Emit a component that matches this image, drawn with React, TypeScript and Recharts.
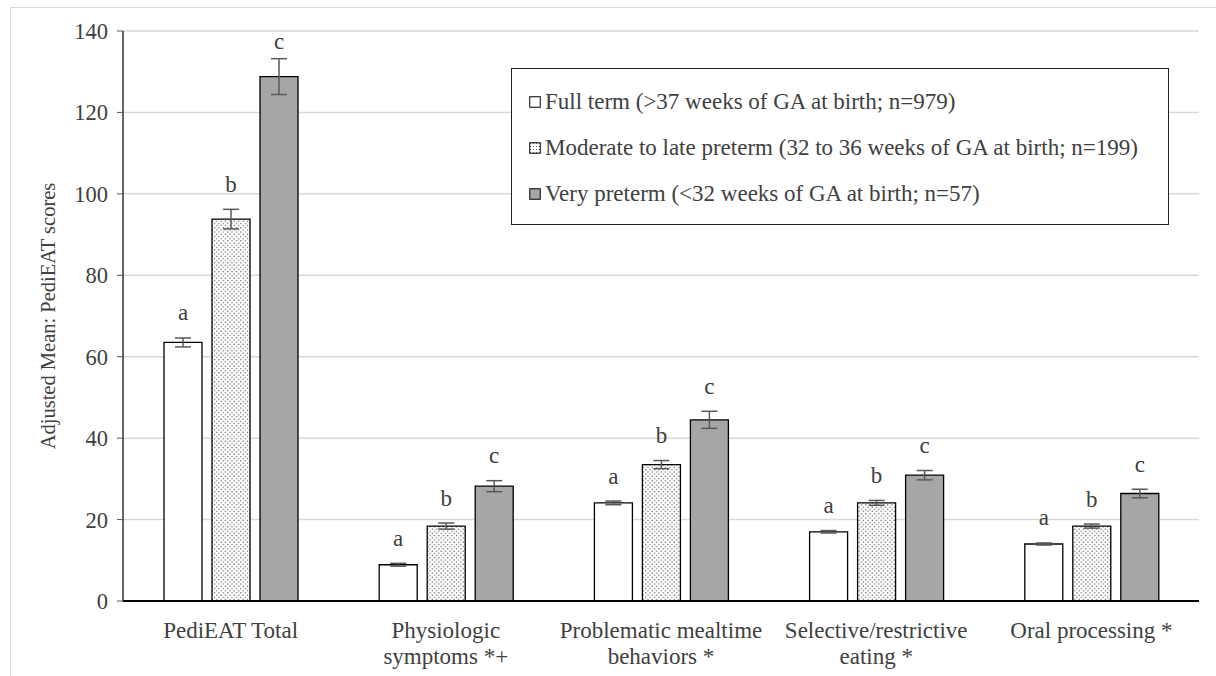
import React from "react";
import {
  BarChart,
  Bar,
  XAxis,
  YAxis,
  CartesianGrid,
  ErrorBar,
  LabelList,
  Label,
} from "recharts";

const categories = [
  "PediEAT Total",
  "Physiologic symptoms *+",
  "Problematic mealtime behaviors *",
  "Selective/restrictive eating *",
  "Oral processing *",
];
const tickLines: string[][] = [
  ["PediEAT Total"],
  ["Physiologic", "symptoms *+"],
  ["Problematic mealtime", "behaviors *"],
  ["Selective/restrictive", "eating *"],
  ["Oral processing *"],
];
const fullTerm = [63.5, 8.9, 24.1, 17.0, 14.0];
const fullTermErr = [1.1, 0.35, 0.45, 0.3, 0.25];
const moderate = [93.8, 18.4, 33.5, 24.1, 18.4];
const moderateErr = [2.4, 0.75, 1.0, 0.6, 0.5];
const veryPre = [128.8, 28.2, 44.5, 30.9, 26.4];
const veryPreErr = [4.4, 1.35, 2.1, 1.15, 1.05];
const yTicks = [0, 20, 40, 60, 80, 100, 120, 140];
const seriesNames = [
  "Full term (>37 weeks of GA at birth; n=979)",
  "Moderate to late preterm (32 to 36 weeks of GA at birth; n=199)",
  "Very preterm (<32 weeks of GA at birth; n=57)",
];
const seriesLetters = ["a", "b", "c"];

const data = categories.map((c, i) => ({
  name: c,
  full: fullTerm[i],
  fullErr: fullTermErr[i],
  mod: moderate[i],
  modErr: moderateErr[i],
  very: veryPre[i],
  veryErr: veryPreErr[i],
}));

const FONT = "'Liberation Serif', 'Times New Roman', serif";
const TEXT = "#404040";
const FS = 23;

const makeLetter = (letter: string, errs: number[]) => (props: any) => {
  const { x, y, width, height, value, index } = props;
  const pxPerUnit = value ? height / value : 0;
  const errTop = y - errs[index] * pxPerUnit;
  const cy = Math.max(errTop - 25, 41);
  return (
    <text
      x={x + width / 2}
      y={cy}
      textAnchor="middle"
      dominantBaseline="central"
      fontFamily={FONT}
      fontSize={FS}
      fill={TEXT}
    >
      {letter}
    </text>
  );
};

const CatTick = (props: any) => {
  const { x, y, payload } = props;
  const lines = tickLines[payload.index] || [payload.value];
  return (
    <g>
      {lines.map((l, k) => (
        <text
          key={k}
          x={x}
          y={y + 29 + k * 26}
          textAnchor="middle"
          fontFamily={FONT}
          fontSize={FS}
          fill={TEXT}
        >
          {l}
        </text>
      ))}
    </g>
  );
};

const LegendIcon = ({ kind }: { kind: number }) => (
  <svg width={12} height={12} style={{ display: "block", flex: "none" }}>
    <defs>
      <pattern id={`lgdots${kind}`} width={3} height={3} patternUnits="userSpaceOnUse">
        <rect width={3} height={3} fill="#fff" />
        <circle cx={1.5} cy={1.5} r={0.6} fill="#555" />
      </pattern>
    </defs>
    <rect
      x={0.75}
      y={0.75}
      width={10.5}
      height={10.5}
      fill={kind === 0 ? "#fff" : kind === 1 ? `url(#lgdots${kind})` : "#a6a6a6"}
      stroke="#000"
      strokeWidth={1}
    />
  </svg>
);

const LegendBox = () => (
  <div
    style={{
      position: "absolute",
      left: 511,
      top: 68,
      boxSizing: "border-box",
      width: 658,
      height: 157,
      border: "1.5px solid #222",
      background: "#fff",
      paddingLeft: 17,
      paddingTop: 10,
    }}
  >
    {seriesNames.map((n, i) => (
      <div
        key={i}
        style={{
          display: "flex",
          alignItems: "center",
          height: 46,
          fontFamily: FONT,
          fontSize: FS,
          color: TEXT,
          whiteSpace: "nowrap",
        }}
      >
        <LegendIcon kind={i} />
        <span style={{ marginLeft: 4 }}>{n}</span>
      </div>
    ))}
  </div>
);

export default function App() {
  return (
    <div
      style={{
        position: "fixed",
        left: 0,
        top: 0,
        width: 1216,
        height: 676,
        overflow: "hidden",
        background: "#fff",
      }}
    >
      <div
        style={{
          position: "absolute",
          left: 10,
          top: 7,
          width: 1220,
          height: 700,
          border: "1.5px solid #d9d9d9",
          boxSizing: "border-box",
        }}
      />
      <div style={{ position: "absolute", left: 0, top: 0 }}>
        <BarChart
          width={1216}
          height={676}
          data={data}
          margin={{ top: 31, right: 17, left: 0, bottom: 0 }}
          barSize={38}
          barGap={10}
        >
          <defs>
            <pattern id="dots" width={4.4} height={4.4} patternUnits="userSpaceOnUse">
              <rect width={4.4} height={4.4} fill="#fff" />
              <circle cx={1.1} cy={1.1} r={0.65} fill="#444" />
              <circle cx={3.3} cy={3.3} r={0.65} fill="#444" />
            </pattern>
          </defs>
          <CartesianGrid vertical={false} stroke="#d9d9d9" strokeWidth={1.5} />
          <XAxis
            dataKey="name"
            height={75}
            tick={<CatTick />}
            tickLine={false}
            axisLine={{ stroke: "#000", strokeWidth: 2 }}
            interval={0}
          />
          <YAxis
            width={123}
            domain={[0, 140]}
            ticks={yTicks}
            interval={0}
            tick={{ fontFamily: FONT, fontSize: 22.5, fill: TEXT }}
            tickLine={{ stroke: "#595959" }}
            tickSize={6}
            tickMargin={9}
            axisLine={{ stroke: "#000", strokeWidth: 1.2 }}
          >
            <Label
              content={(p: any) => {
                const vb = p.viewBox || {};
                const cy = (vb.y || 0) + (vb.height || 0) / 2;
                return (
                  <text
                    transform={`translate(48, ${cy}) rotate(-90)`}
                    textAnchor="middle"
                    dominantBaseline="central"
                    fontFamily={FONT}
                    fontSize={20.5}
                    fill={TEXT}
                  >
                    Adjusted Mean: PediEAT scores
                  </text>
                );
              }}
            />
          </YAxis>
          <Bar dataKey="full" fill="#fff" stroke="#000" strokeWidth={1.3} isAnimationActive={false}>
            <ErrorBar dataKey="fullErr" width={8} stroke="#595959" strokeWidth={1.5} />
            <LabelList dataKey="full" content={makeLetter(seriesLetters[0], fullTermErr)} />
          </Bar>
          <Bar dataKey="mod" fill="url(#dots)" stroke="#000" strokeWidth={1.3} isAnimationActive={false}>
            <ErrorBar dataKey="modErr" width={8} stroke="#595959" strokeWidth={1.5} />
            <LabelList dataKey="mod" content={makeLetter(seriesLetters[1], moderateErr)} />
          </Bar>
          <Bar dataKey="very" fill="#a6a6a6" stroke="#000" strokeWidth={1.3} isAnimationActive={false}>
            <ErrorBar dataKey="veryErr" width={8} stroke="#595959" strokeWidth={1.5} />
            <LabelList dataKey="very" content={makeLetter(seriesLetters[2], veryPreErr)} />
          </Bar>
        </BarChart>
      </div>
      <LegendBox />
    </div>
  );
}
